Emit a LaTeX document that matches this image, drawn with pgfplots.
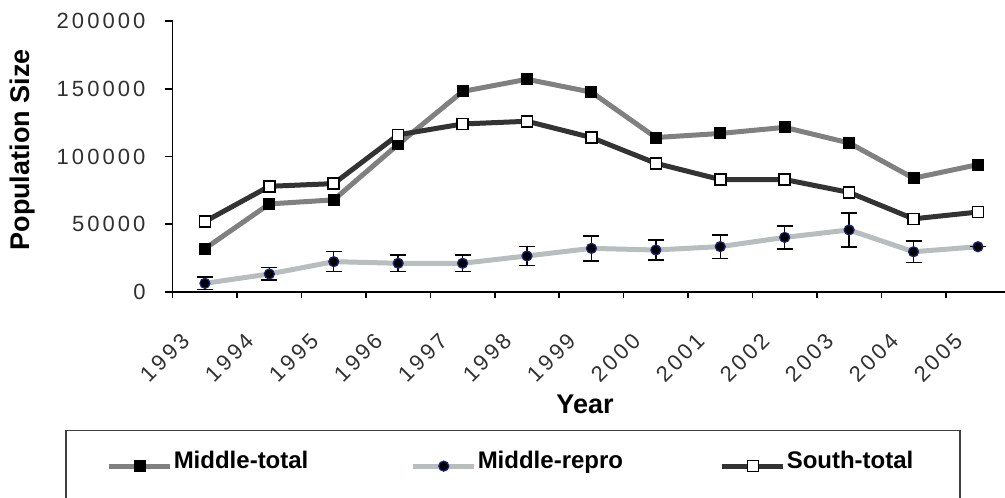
\documentclass[border=0pt]{standalone}
\usepackage{fontspec}
\setmainfont{Liberation Sans}
\newfontfamily\tickfont[LetterSpace=14]{Liberation Sans}
\usepackage{pgfplots}
\pgfplotsset{compat=1.18}

\definecolor{midtotal}{HTML}{808080}
\definecolor{southtotal}{HTML}{333333}
\definecolor{midrepro}{HTML}{B8BDBD}
\definecolor{reproedge}{HTML}{1C237A}
\definecolor{labelgray}{HTML}{303030}

\begin{document}
\begin{tikzpicture}
\useasboundingbox (0pt,0pt) rectangle (1005pt,498pt);
\begin{axis}[
  at={(172.7pt,206pt)}, anchor=south west,
  scale only axis, width=832.3pt, height=271pt,
  xmin=-0.5, xmax=12.42, ymin=0, ymax=200000,
  clip=false,
  axis x line*=bottom, axis y line*=left,
  axis line style={-, line width=1.6pt, black},
  tick align=outside,
  major tick length=8pt, minor tick length=6pt,
  tick style={black, line width=1.6pt},
  major x tick style={draw=none},
  xtick={0,1,2,3,4,5,6,7,8,9,10,11,12},
  minor xtick={-0.5,0.5,1.5,2.5,3.5,4.5,5.5,6.5,7.5,8.5,9.5,10.5,11.5},
  xticklabels={1993,1994,1995,1996,1997,1998,1999,2000,2001,2002,2003,2004,2005},
  scaled y ticks=false,
  ytick={0,50000,100000,150000,200000},
  yticklabels={0,50000,100000,150000,200000},
  tick label style={font=\fontsize{22}{22}\tickfont, text=labelgray, inner sep=0pt},
  yticklabel style={anchor=east, xshift=-19pt},
  xticklabel style={xshift=-19pt, yshift=-37pt, rotate=45, anchor=east},
  xlabel={Year}, ylabel={Population Size},
  label style={font=\fontsize{27}{27}\selectfont\bfseries},
  xlabel style={at={(axis description cs:0.4954,-0.4133)}, anchor=center},
  ylabel style={at={(axis description cs:-0.1799,0.524)}, anchor=center},
  legend columns=3,
  legend style={at={(axis description cs:-0.1294,-0.5092)}, anchor=north west,
    draw=black!75, line width=1.5pt, fill=white,
    inner xsep=41pt, inner ysep=20pt,
    font=\fontsize{24}{24}\selectfont\bfseries,
    cells={anchor=base west},
    nodes={inner sep=0pt, text depth=14pt, yshift=-2pt},
    /tikz/every odd column/.append style={column sep=1pt}},
  legend image code/.code={\draw[#1, mark repeat=2, mark phase=2] plot coordinates {(0pt,0pt) (30.5pt,0pt) (61pt,0pt)};},
]

% Middle section, total population
\addplot[midtotal, line width=5pt, mark=square*, mark size=5.5pt,
  mark options={draw=black, fill=black, line width=1pt}]
  coordinates {(0,32000) (1,65000) (2,68000) (3,109000) (4,148000) (5,157000)
    (6,147500) (7,114000) (8,117000) (9,121500) (10,110000) (11,84000) (12,94000)};
\addlegendentry[text width=237pt]{Middle-total}

% Middle section, reproductive population with error bars
\addplot[midrepro, line width=5pt, mark=*, mark size=5pt,
  mark options={draw=reproedge, fill=black, line width=1.2pt},
  error bars/.cd, y dir=both, y explicit,
  error mark options={rotate=90, black, mark size=8pt, line width=1.5pt},
  error bar style={black, line width=1.5pt}]
  coordinates {
    (0,6400) +- (0,4500)
    (1,13300) +- (0,4600)
    (2,22400) +- (0,7400)
    (3,21200) +- (0,6200)
    (4,21200) +- (0,6200)
    (5,26600) +- (0,7100)
    (6,32200) +- (0,9200)
    (7,31000) +- (0,7500)
    (8,33500) +- (0,8600)
    (9,40300) +- (0,8500)
    (10,45800) +- (0,12500)
    (11,29700) +- (0,8000)
    (12,33400) +- (0,0)};
\addlegendentry[text width=242pt]{Middle-repro}

% South section, total population
\addplot[southtotal, line width=5pt, mark=square*, mark size=5.5pt,
  mark options={draw=black, fill=white, line width=1.5pt}]
  coordinates {(0,52000) (1,78000) (2,80000) (3,116000) (4,124000) (5,126000)
    (6,114000) (7,95000) (8,83000) (9,83000) (10,73500) (11,54000) (12,59000)};
\addlegendentry[text width=132pt]{South-total}

\end{axis}
\end{tikzpicture}
\end{document}
